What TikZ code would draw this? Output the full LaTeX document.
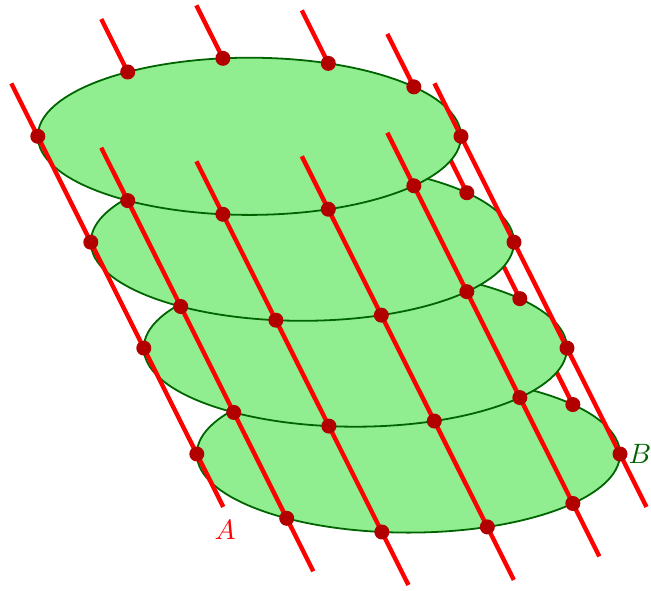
\documentclass[tikz,border=0pt]{standalone}
\usetikzlibrary{calc}
\definecolor{discfill}{RGB}{144,238,144}
\definecolor{discedge}{RGB}{0,100,0}
\definecolor{dotred}{RGB}{178,0,0}
\begin{document}
\begin{tikzpicture}[x=1pt,y=-1pt,
  disc/.style={fill=discfill,draw=discedge,line width=1.8pt},
  rod/.style={draw=red,line width=4.4pt},
  pin/.style={fill=dotred},
  lab/.style={scale=2.8,transform shape,inner sep=0pt}]
\useasboundingbox (0,0) rectangle (651,590);
% centres and points on the discs
\foreach \k in {1,...,4}{
  \coordinate (c\k) at ({249.4+53*(\k-1)},{136.3+105.9*(\k-1)});
  \path (c\k) ++(180:211.6pt and 78.6pt) coordinate (L\k);
  \path (c\k) ++(0:211.6pt and 78.6pt) coordinate (R\k);
  \foreach \a [count=\j] in {125.1,97.2,68.1,39}{
    \path (c\k) ++(\a:211.6pt and 78.6pt) coordinate (T\k\j);
    \path (c\k) ++(-\a:211.6pt and 78.6pt) coordinate (F\k\j);
  }
}
% line ends, half a step beyond the first and last disc
\path (L1) ++(-26.5,-52.95) coordinate (L0);
\path (L4) ++(26.5,52.95) coordinate (L5);
\path (R1) ++(-26.5,-52.95) coordinate (R0);
\path (R4) ++(26.5,52.95) coordinate (R5);
\foreach \j in {1,...,4}{
  \path (T1\j) ++(-26.5,-52.95) coordinate (T0\j);
  \path (F1\j) ++(-26.5,-52.95) coordinate (F0\j);
  \path (F4\j) ++(26.5,52.95) coordinate (F5\j);
}
% discs from the lowest up, with the hidden (back) lines between them
\foreach \k [evaluate=\k as \km using int(\k-1)] in {4,3,2,1}{
  \path[disc] (c\k) ellipse [x radius=211.6pt, y radius=78.6pt];
  \foreach \j in {1,...,4}{
    \draw[rod] (T\km\j) -- (T\k\j);
  }
  \foreach \j in {1,...,4}{
    \fill[pin] (T\k\j) circle [radius=7.5pt];
  }
}
% front lines
\draw[rod] (L0) -- (L5);
\draw[rod] (R0) -- (R5);
\foreach \j in {1,...,4}{
  \draw[rod] (F0\j) -- (F5\j);
}
\foreach \k in {1,...,4}{
  \fill[pin] (L\k) circle [radius=7.5pt];
  \fill[pin] (R\k) circle [radius=7.5pt];
  \foreach \j in {1,...,4}{
    \fill[pin] (F\k\j) circle [radius=7.5pt];
  }
}
\node[lab,text=red] (labA) at (225,530) {$A$};
\node[lab,text=discedge] (labB) at (640,454) {$B$};
\end{tikzpicture}
\end{document}
